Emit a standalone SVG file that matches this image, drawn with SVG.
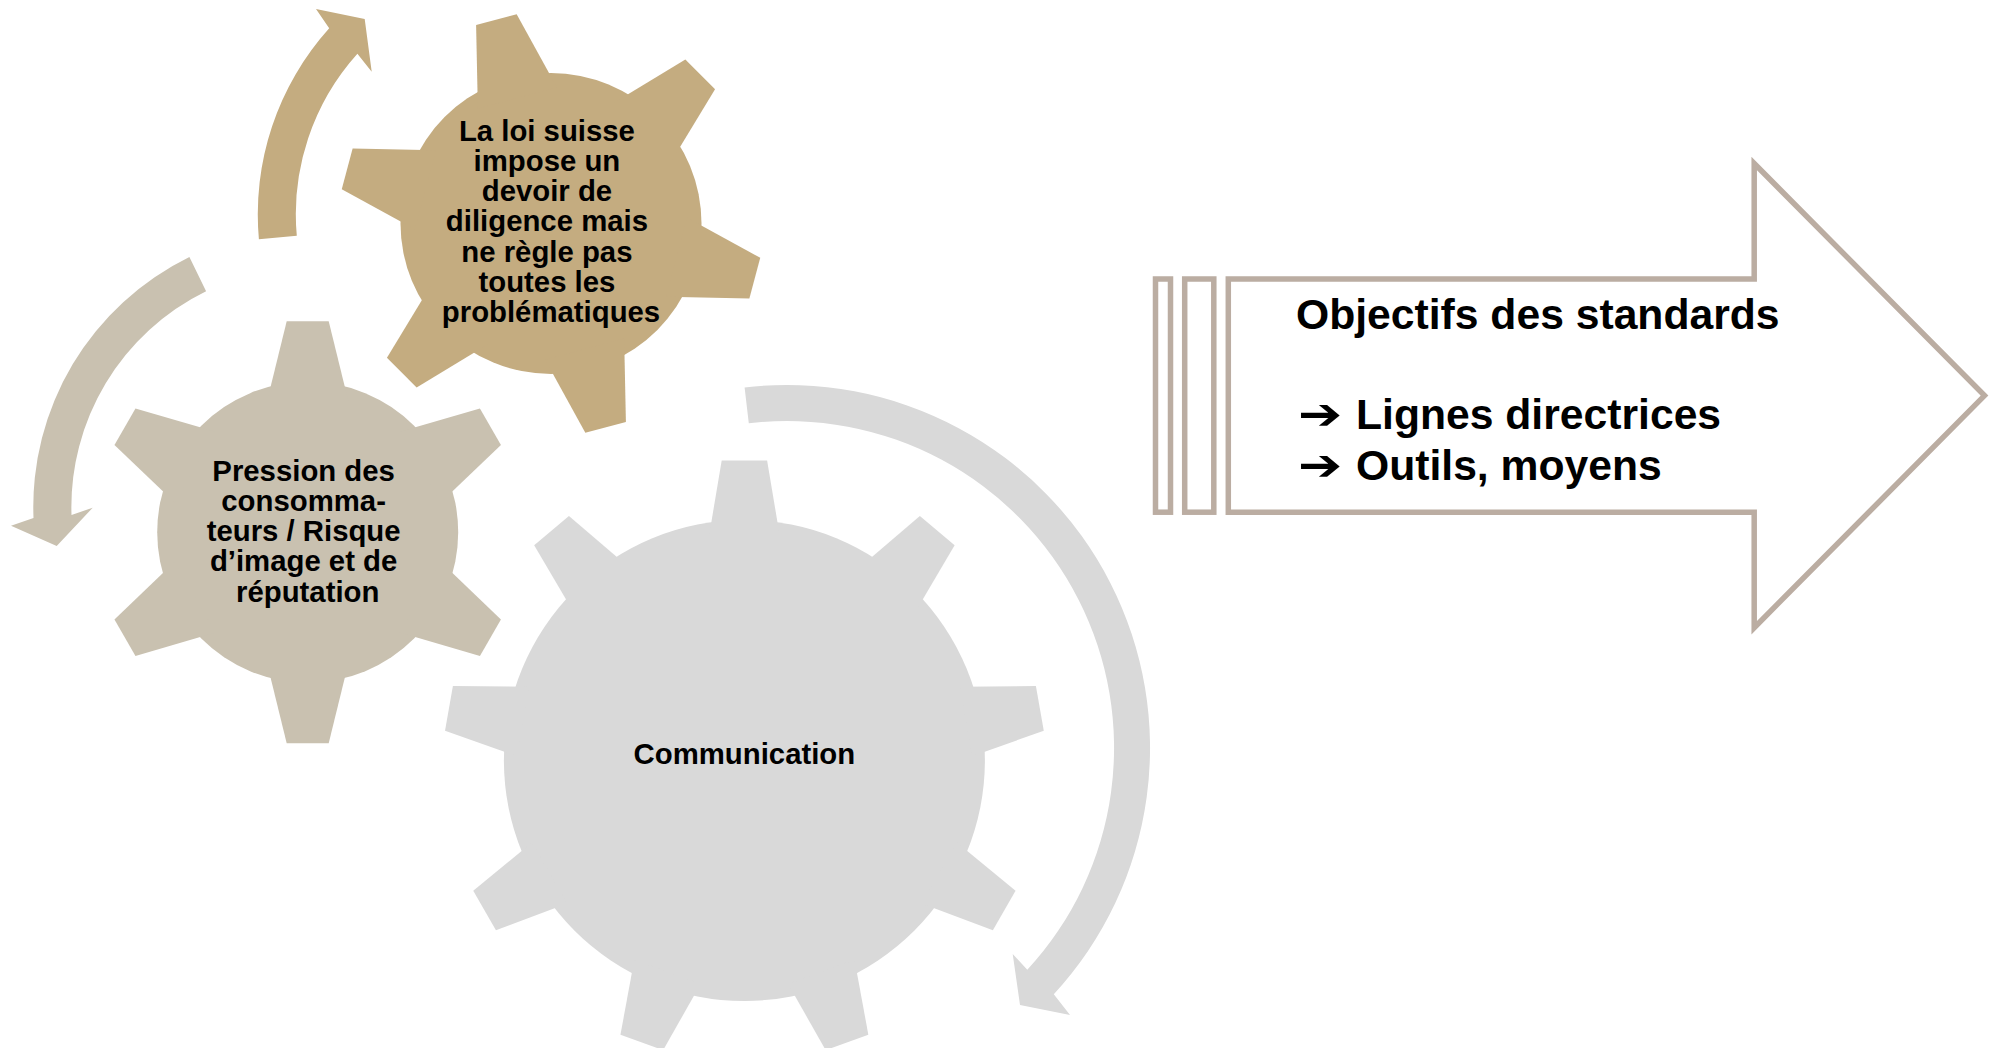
<svg xmlns="http://www.w3.org/2000/svg" xmlns:xlink="http://www.w3.org/1999/xlink" width="1989" height="1048" viewBox="0 0 1989 1048">
  <style>
    .lbl { font-family: "Liberation Sans", Arial, sans-serif; font-weight: bold; fill: #000000; }
    .gear-txt { font-size: 29.33px; text-anchor: middle; }
    .goal-txt { font-size: 42.67px; }
    .sym { font-family: "DejaVu Sans", "Liberation Sans", sans-serif; font-weight: bold; font-size: 44px; fill: #000000; }
    .outline { fill: #FFFFFF; stroke: #BBADA2; stroke-width: 5.5; stroke-linejoin: miter; stroke-miterlimit: 10; }
  </style>
  <defs>
    <path id="tooth-small" d="M -40.9 -130 L -21 -211 L 21 -211 L 40.9 -130 Z"/>
    <path id="tooth-large" d="M -35.3 -225 L -22.7 -300 L 22.7 -300 L 35.3 -225 Z"/>
  </defs>
  <rect width="1989" height="1048" fill="#FFFFFF"/>

  <g id="connectors">
    <path id="arrow-loi" fill="#C4AC80" d="M 258.9 239.3 A 278 278 0 0 1 329.2 28.3 L 316 9 L 364.7 19 L 371.7 71.7 L 357.4 53.7 A 240 240 0 0 0 296.8 235.8 Z"/>
    <path id="arrow-pression" fill="#C9C1B0" d="M 189.4 257.1 A 278 278 0 0 0 33.5 518 L 11 525.7 L 56.7 546 L 92.7 507.7 L 71.5 515 A 240 240 0 0 1 206.1 291.3 Z"/>
    <path id="arrow-communication" fill="#D9D9D9" d="M 744.6 387.5 A 363 363 0 0 1 1053.8 994.2 L 1070 1015 L 1020 1005 L 1012.7 954 L 1027.3 969.8 A 327 327 0 0 0 748.8 423.2 Z"/>
  </g>

  <g id="node-loi">
    <g transform="translate(551 223.5)" fill="#C4AC80">
      <circle r="150.5"/>
      <use xlink:href="#tooth-small" href="#tooth-small" transform="rotate(-15)"/>
      <use xlink:href="#tooth-small" href="#tooth-small" transform="rotate(45)"/>
      <use xlink:href="#tooth-small" href="#tooth-small" transform="rotate(105)"/>
      <use xlink:href="#tooth-small" href="#tooth-small" transform="rotate(165)"/>
      <use xlink:href="#tooth-small" href="#tooth-small" transform="rotate(225)"/>
      <use xlink:href="#tooth-small" href="#tooth-small" transform="rotate(285)"/>
    </g>
    <text class="lbl gear-txt">
      <tspan x="551" y="140.7">La loi suisse</tspan>
      <tspan x="551" y="170.9">impose un</tspan>
      <tspan x="551" y="201.1">devoir de</tspan>
      <tspan x="551" y="231.3">diligence mais</tspan>
      <tspan x="551" y="261.5">ne règle pas</tspan>
      <tspan x="551" y="291.7">toutes les</tspan>
      <tspan x="551" y="321.9">problématiques</tspan>
    </text>
  </g>

  <g id="node-pression">
    <g transform="translate(307.7 532.2)" fill="#C9C1B0">
      <circle r="150.5"/>
      <use xlink:href="#tooth-small" href="#tooth-small" transform="rotate(0)"/>
      <use xlink:href="#tooth-small" href="#tooth-small" transform="rotate(60)"/>
      <use xlink:href="#tooth-small" href="#tooth-small" transform="rotate(120)"/>
      <use xlink:href="#tooth-small" href="#tooth-small" transform="rotate(180)"/>
      <use xlink:href="#tooth-small" href="#tooth-small" transform="rotate(240)"/>
      <use xlink:href="#tooth-small" href="#tooth-small" transform="rotate(300)"/>
    </g>
    <text class="lbl gear-txt">
      <tspan x="307.7" y="480.7">Pression des</tspan>
      <tspan x="307.7" y="510.9">consomma-</tspan>
      <tspan x="307.7" y="541.2">teurs / Risque</tspan>
      <tspan x="307.7" y="571.4">d’image et de</tspan>
      <tspan x="307.7" y="601.7">réputation</tspan>
    </text>
  </g>

  <g id="node-communication">
    <g transform="translate(744.4 760.5)" fill="#D9D9D9">
      <circle r="240.5"/>
      <use xlink:href="#tooth-large" href="#tooth-large" transform="rotate(0)"/>
      <use xlink:href="#tooth-large" href="#tooth-large" transform="rotate(40)"/>
      <use xlink:href="#tooth-large" href="#tooth-large" transform="rotate(80)"/>
      <use xlink:href="#tooth-large" href="#tooth-large" transform="rotate(120)"/>
      <use xlink:href="#tooth-large" href="#tooth-large" transform="rotate(160)"/>
      <use xlink:href="#tooth-large" href="#tooth-large" transform="rotate(200)"/>
      <use xlink:href="#tooth-large" href="#tooth-large" transform="rotate(240)"/>
      <use xlink:href="#tooth-large" href="#tooth-large" transform="rotate(280)"/>
      <use xlink:href="#tooth-large" href="#tooth-large" transform="rotate(320)"/>
    </g>
    <text class="lbl gear-txt" x="744.4" y="763.5">Communication</text>
  </g>

  <g id="node-objectifs">
    <rect class="outline" x="1155.5" y="279" width="15" height="233.2"/>
    <rect class="outline" x="1184.7" y="279" width="29.1" height="233.2"/>
    <path class="outline" d="M 1228.3 279 L 1754.2 279 L 1754.2 163.5 L 1984.5 395.6 L 1754.2 627.7 L 1754.2 512.2 L 1228.3 512.2 Z"/>
    <text class="lbl goal-txt" x="1296" y="328.5">Objectifs des standards</text>
    <text class="sym" transform="translate(1298 429) scale(1.2 1)">➔</text>
    <text class="lbl goal-txt" x="1356" y="429">Lignes directrices</text>
    <text class="sym" transform="translate(1298 480) scale(1.2 1)">➔</text>
    <text class="lbl goal-txt" x="1356" y="480">Outils, moyens</text>
  </g>
</svg>
